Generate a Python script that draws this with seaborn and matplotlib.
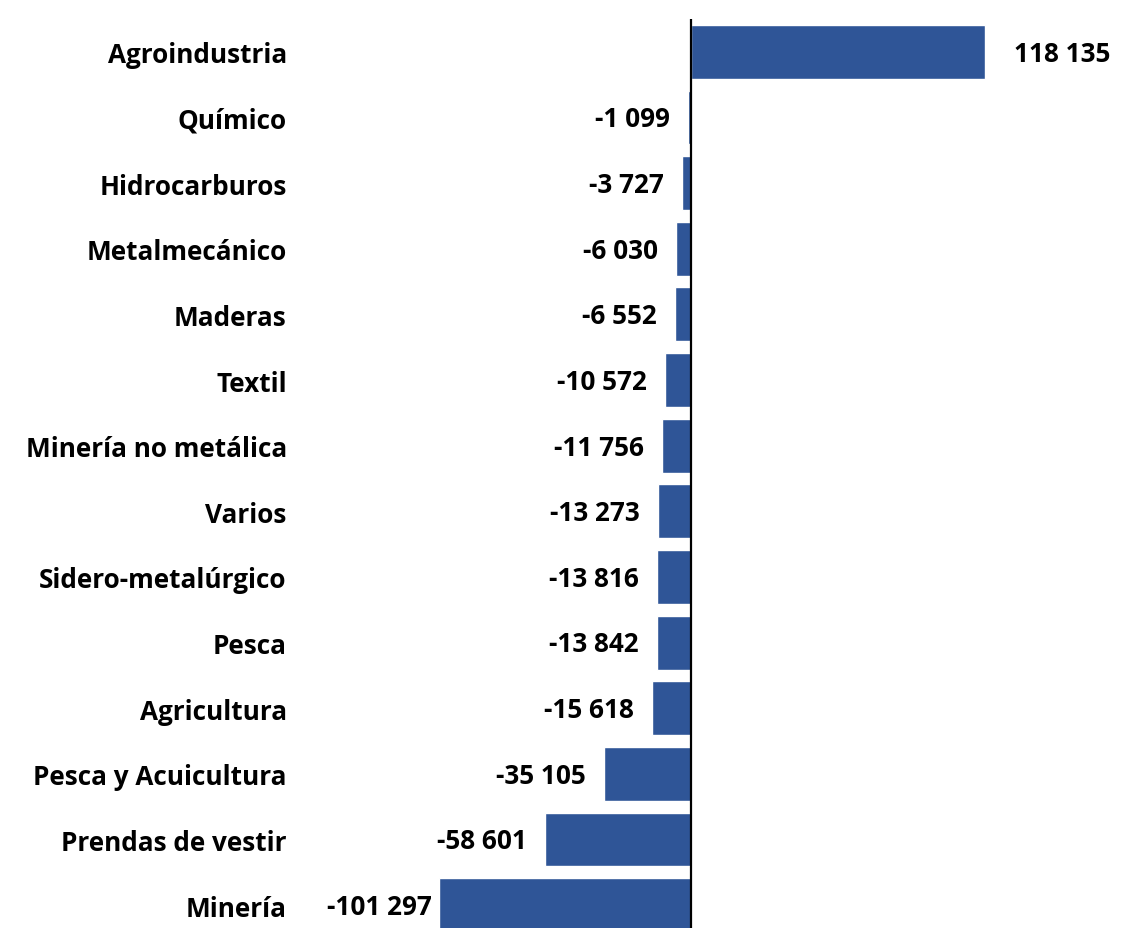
import numpy as np
import pandas as pd
import seaborn as sns
import matplotlib.pyplot as plt

sectors = [
    "Agroindustria", "Químico", "Hidrocarburos", "Metalmecánico", "Maderas",
    "Textil", "Minería no metálica", "Varios", "Sidero-metalúrgico", "Pesca",
    "Agricultura", "Pesca y Acuicultura", "Prendas de vestir", "Minería",
]
values = [
    118135, -1099, -3727, -6030, -6552, -10572, -11756, -13273, -13816,
    -13842, -15618, -35105, -58601, -101297,
]

df = pd.DataFrame({"sector": sectors, "value": values})

sns.set_theme(style="white")
plt.rcParams["font.family"] = ["Open Sans", "DejaVu Sans"]
plt.rcParams["text.color"] = "black"

W, H = 1125, 929
fig = plt.figure(figsize=(W / 100, H / 100), dpi=100)

# axes placed in pixels: left 300, right 1125, top 20, bottom 939
left_px, right_px, top_px, bot_px = 300, 1125, 20, 939
ax = fig.add_axes([left_px / W, 1 - bot_px / H,
                   (right_px - left_px) / W, (bot_px - top_px) / H])

sns.barplot(data=df, x="value", y="sector", orient="h", color="#2F5597",
            saturation=1, width=0.82, ax=ax)

zero_px = 691
scale = 0.00249  # px per unit
ax.set_xlim(-(zero_px - left_px) / scale, (right_px - zero_px) / scale)
ax.set_ylim(len(sectors) - 0.5, -0.5)

ax.axvline(0, color="black", lw=1.6, zorder=5)
for s in ax.spines.values():
    s.set_visible(False)
ax.set_xticks([])
ax.set_xlabel("")
ax.set_ylabel("")
ax.tick_params(axis="y", length=0, pad=9.5)
fs = 18.8
for t in ax.get_yticklabels():
    t.set_fontsize(fs)
    t.set_fontweight("bold")
    t.set_color("black")

for i, v in enumerate(values):
    txt = f"{v:,}".replace(",", " ")
    if v >= 0:
        ax.annotate(txt, (v, i), xytext=(21, -1), textcoords="offset points",
                    ha="left", va="center", fontsize=fs, fontweight="bold",
                    color="black")
    else:
        off = -5 if v < -90000 else -13
        ax.annotate(txt, (v, i), xytext=(off, -1), textcoords="offset points",
                    ha="right", va="center", fontsize=fs, fontweight="bold",
                    color="black")

fig.savefig("out.png", dpi=100)
